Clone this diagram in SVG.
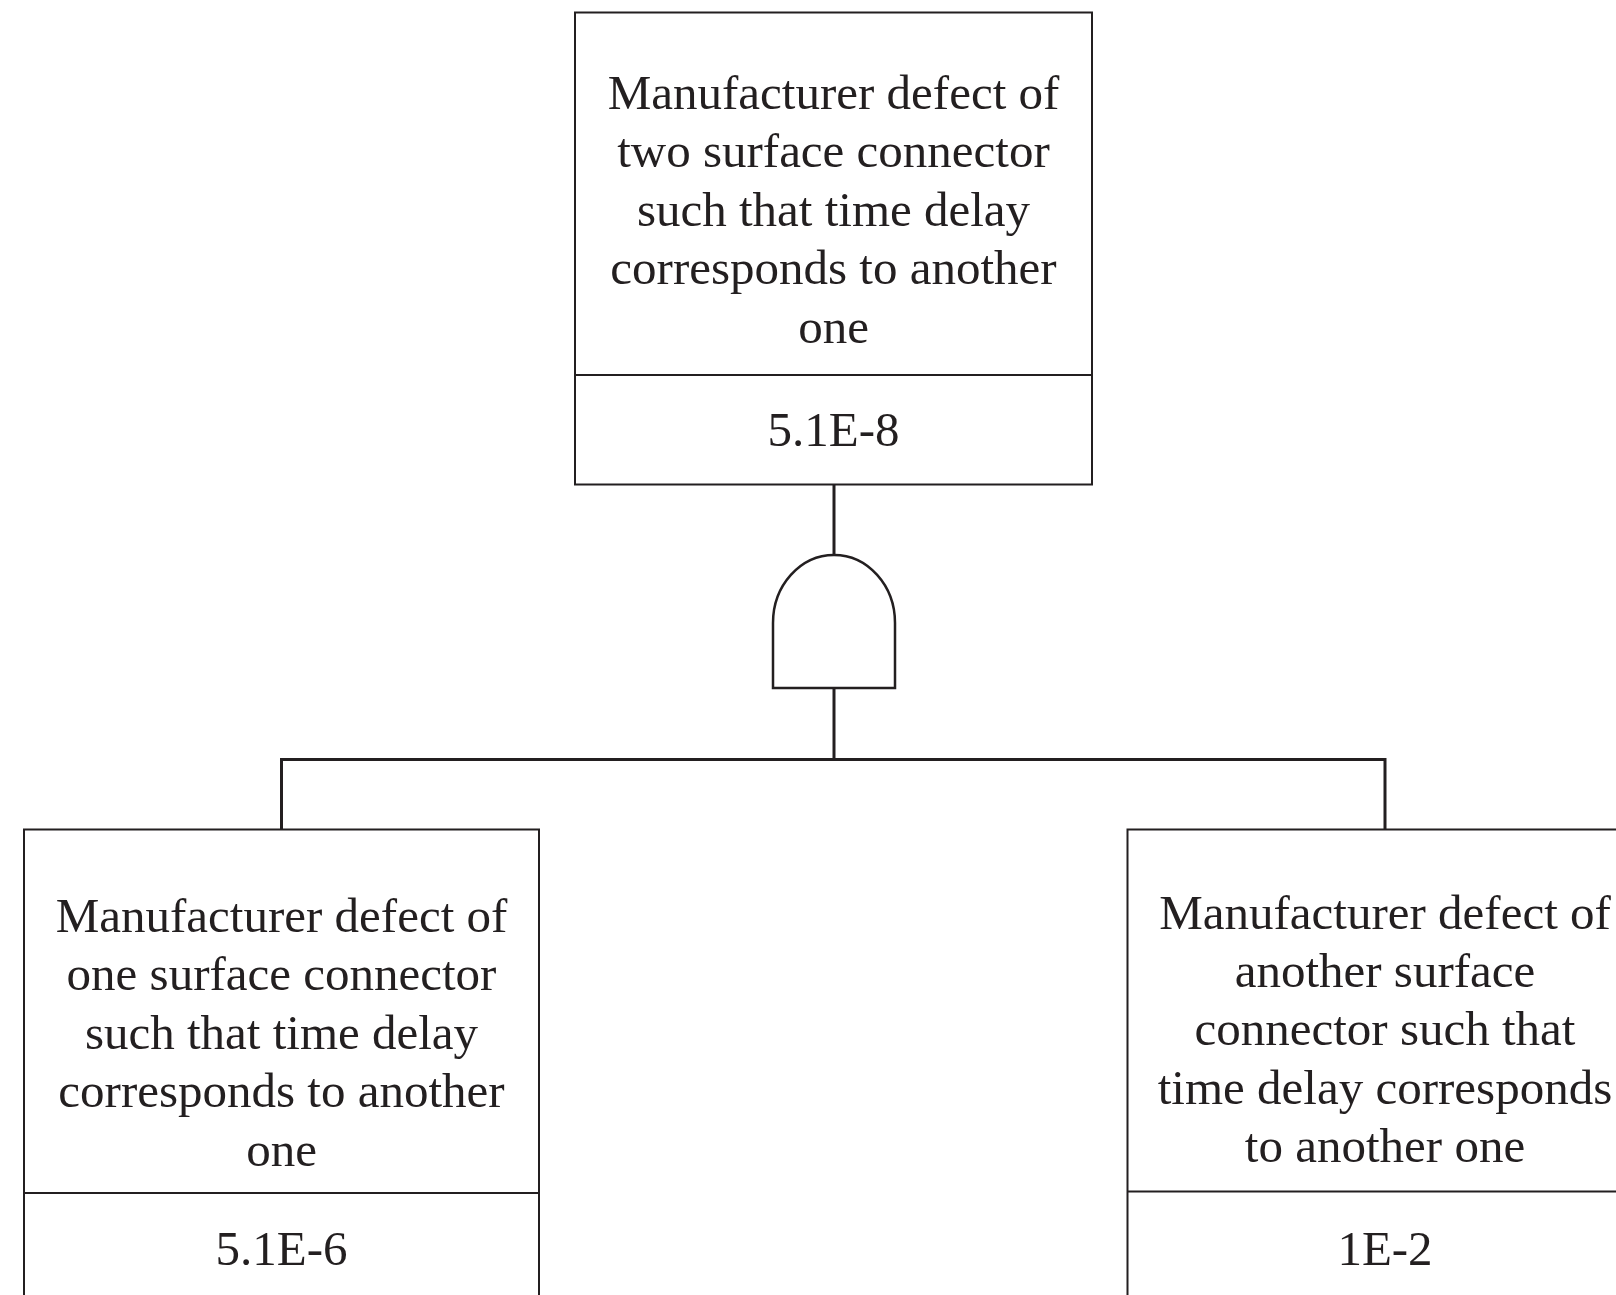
<svg xmlns="http://www.w3.org/2000/svg" width="1616" height="1295" viewBox="0 0 1616 1295">
<style>
.box{fill:#fff;stroke:#231f20;stroke-width:2}
.div{stroke:#231f20;stroke-width:2}
.t{font-family:"Liberation Serif","Times New Roman",serif;font-size:49px;fill:#231f20;text-anchor:middle}
.con{fill:none;stroke:#231f20;stroke-width:3}
.gate{fill:#fff;stroke:#231f20;stroke-width:2.5}
</style>
<rect width="1616" height="1295" fill="#fff"/>
<g id="connectors">
<line class="con" x1="834" y1="485" x2="834" y2="555"/>
<line class="con" x1="834" y1="688" x2="834" y2="759.5"/>
<polyline class="con" points="281.5,829 281.5,759.5 1385,759.5 1385,829"/>
</g>
<g id="and-gate">
<path class="gate" d="M773 688 L773 623 A61 68 0 0 1 895 623 L895 688 Z"/>
</g>
<g id="top-event">
<rect class="box" x="575" y="12.5" width="517" height="472"/>
<line class="div" x1="575" y1="375" x2="1092" y2="375"/>
<text class="t" x="833.5" y="108.5">Manufacturer defect of</text>
<text class="t" x="833.5" y="167">two surface connector</text>
<text class="t" x="833.5" y="225.5">such that time delay</text>
<text class="t" x="833.5" y="284">corresponds to another</text>
<text class="t" x="833.5" y="342.5">one</text>
<text class="t" x="833.5" y="446">5.1E-8</text>
</g>
<g id="left-event">
<rect class="box" x="24" y="829.5" width="515" height="480"/>
<line class="div" x1="24" y1="1193" x2="539" y2="1193"/>
<text class="t" x="281.5" y="931.5">Manufacturer defect of</text>
<text class="t" x="281.5" y="990">one surface connector</text>
<text class="t" x="281.5" y="1048.5">such that time delay</text>
<text class="t" x="281.5" y="1107">corresponds to another</text>
<text class="t" x="281.5" y="1165.5">one</text>
<text class="t" x="281.5" y="1264.5">5.1E-6</text>
</g>
<g id="right-event">
<rect class="box" x="1127.5" y="829.5" width="516" height="480"/>
<line class="div" x1="1127.5" y1="1191.5" x2="1643.5" y2="1191.5"/>
<text class="t" x="1385" y="928.5">Manufacturer defect of</text>
<text class="t" x="1385" y="986.5">another surface</text>
<text class="t" x="1385" y="1045">connector such that</text>
<text class="t" x="1385" y="1103.5">time delay corresponds</text>
<text class="t" x="1385" y="1161.5">to another one</text>
<text class="t" x="1385" y="1264.5">1E-2</text>
</g>
</svg>
